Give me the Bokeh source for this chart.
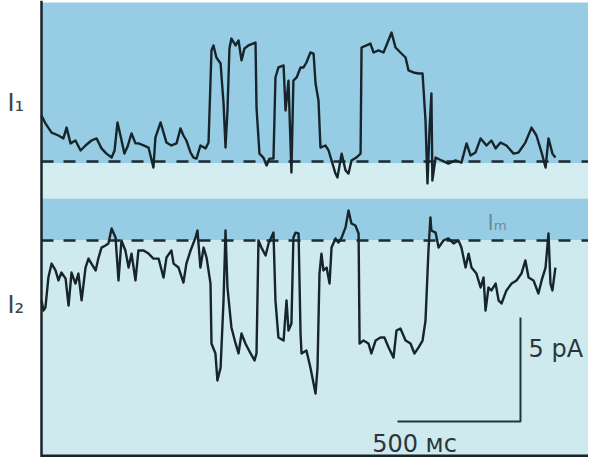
from bokeh.plotting import figure
from bokeh.models import BoxAnnotation, Label, Span, Range1d
from bokeh.embed import file_html
from bokeh.resources import INLINE

# ---------------- data ----------------
# Trace I1: time (ms) and current (pA) relative to its baseline
t1 = [0, 16, 41, 69, 89, 102, 118, 138, 159, 179, 203, 224, 244, 264, 285, 297, 309, 321, 337, 350,
      366, 382, 394, 415, 435, 455, 463, 484, 508, 528, 549, 565, 577, 589, 606, 618, 630, 646, 667, 679,
      691, 699, 711, 728, 740, 748, 756, 764, 772, 789, 801, 813, 825, 841, 870, 874, 886, 902, 915, 927,
      943, 951, 963, 984, 992, 1004, 1016, 1024, 1037, 1053, 1065, 1077, 1093, 1106, 1114, 1126, 1134,
      1154, 1167, 1179, 1195, 1203, 1220, 1236, 1248, 1260, 1280, 1297, 1301, 1321, 1337, 1350, 1370,
      1390, 1402, 1423, 1439, 1459, 1480, 1492, 1512, 1533, 1549, 1561, 1569, 1577, 1585, 1589, 1602,
      1626, 1654, 1683, 1707, 1728, 1744, 1764, 1785, 1809, 1829, 1846, 1866, 1890, 1919, 1939, 1967,
      1992, 2012, 2033, 2049, 2061, 2077, 2089]
i1 = [2.21, 1.83, 1.39, 1.25, 1.11, 1.63, 0.87, 1.01, 0.53, 0.77, 1.01, 1.11, 0.63, 0.38, 0.19, 0.53, 1.88, 1.25, 0.38, 0.72,
      1.35, 0.87, 0.87, 0.77, 0.67, -0.29, 1.15, 1.88, 0.91, 0.77, 0.87, 1.59, 1.25, 1.01, 0.43, 0.19, 0.14, 0.77, 0.63, 0.91,
      5.34, 5.58, 5.0, 4.71, 2.79, 0.67, 2.45, 5.43, 5.91, 5.58, 5.82, 4.86, 5.43, 5.58, 5.72, 2.6, 0.38, 0.19, -0.19, 0.14,
      0.14, 4.04, 4.52, 4.62, 2.45, 3.89, -0.53, 3.89, 4.04, 4.52, 4.52, 4.76, 5.24, 5.19, 3.75, 2.93, 0.67,
      0.77, 0.53, 0.05, -0.58, -0.77, 0.38, -0.43, -0.58, 0.05, 0.19, 0.38, 5.48, 5.58, 5.67, 5.24, 5.34,
      5.24, 5.58, 6.2, 5.48, 5.24, 5.0, 4.38, 4.28, 4.23, 4.23, 1.97, -1.06, 1.49, 3.27, -0.91, 0.19,
      0.05, -0.1, 0.05, -0.05, 0.87, 0.29, 0.43, 1.11, 0.77, 1.01, 0.63, 0.91, 0.77, 0.38, 0.43, 0.91,
      1.63, 1.25, 0.43, -0.29, 1.11, 0.38, 0.19]

# Trace I2: time (ms) and current (pA) relative to its baseline
t2 = [0, 8, 16, 28, 41, 57, 69, 81, 98, 110, 122, 138, 150, 163, 179, 191, 203, 220, 232, 244,
      260, 272, 285, 301, 313, 325, 341, 354, 366, 382, 394, 415, 435, 455, 476, 496, 508, 528,
      537, 557, 577, 589, 606, 626, 634, 646, 659, 671, 687, 691, 707, 715, 728, 740, 748, 756, 772,
      789, 801, 813, 829, 850, 866, 874, 882, 894, 911, 923, 943, 951, 963, 984, 996, 1004, 1016,
      1024, 1033, 1045, 1053, 1057, 1077, 1093, 1106, 1114, 1122, 1130, 1138, 1146, 1159, 1171, 1179,
      1195, 1207, 1220, 1236, 1248, 1260, 1276, 1289, 1293, 1309, 1329, 1341, 1358, 1378, 1394, 1411,
      1431, 1443, 1459, 1480, 1500, 1516, 1533, 1549, 1561, 1573, 1581, 1585, 1602, 1614, 1634, 1654,
      1675, 1695, 1707, 1724, 1736, 1748, 1768, 1785, 1797, 1805, 1817, 1829, 1846, 1858, 1870, 1890,
      1911, 1931, 1951, 1967, 1980, 2000, 2020, 2033, 2049, 2061, 2069, 2077, 2089]
i2 = [-2.88, -3.37, -3.22, -1.78, -1.11, -1.44, -1.92, -1.54, -1.83, -3.13, -1.54, -2.07, -1.59, -2.88, -1.3, -0.87, -1.11, -1.44, -0.82, -0.34,
      -0.24, -0.14, 0.58, 0.14, -1.92, 0.0, -0.48, -1.3, -0.63, -1.92, -0.48, -0.48, -0.63, -0.87, -0.87, -1.78, -0.82, -0.48,
      -1.11, -1.3, -2.02, -1.11, -0.48, 0.14, 0.48, -1.3, -0.34, -0.82, -2.07, -4.95, -5.43, -6.73, -6.11, -2.88, 0.48, -2.26, -4.18,
      -4.95, -5.43, -4.47, -4.95, -5.43, -5.77, -5.43, 0.0, -0.34, -0.72, -0.14, 0.38, -2.88, -4.66, -4.81, -2.88, -4.33, -3.99,
      0.14, 0.38, 0.34, -4.47, -5.43, -5.29, -6.11, -6.88, -7.36, -6.11, -1.59, -0.63, -1.44, -1.3, -2.07, -0.34,
      0.1, -0.1, 0.14, 0.63, 1.44, 0.82, 0.72, 0.34, -4.95, -4.81, -4.95, -5.43, -4.81, -4.66, -4.66, -5.14,
      -5.63, -4.33, -4.23, -4.81, -4.95, -5.43, -5.14, -4.81, -3.85, -0.48, 1.11, 0.48, 0.38, -0.34, 0.0, 0.1,
      -0.14, 0.0, -0.34, -1.3, -0.63, -1.3, -1.59, -2.26, -1.78, -3.37, -2.26, -2.4, -2.07, -2.88, -3.03, -2.4,
      -2.07, -1.92, -1.59, -0.96, -1.78, -1.92, -2.55, -1.92, -1.3, 0.34, -2.07, -2.4, -1.3]

scale_t = 500   # ms
scale_i = 5     # pA
trace_labels = ["I\u2081", "I\u2082", "I\u2098"]
scale_labels = ["5 pA", "500 \u043c\u0441"]

# ---------------- layout ----------------
W, H = 588, 457
PX_PER_MS = 0.246
PX_PER_PA = 20.8
ORIGIN_X = 41      # screen x of t = 0 (left axis)
ORIGIN_Y = 462     # screen y of current 0 reference
TXT_DY = 9         # text baseline correction (px)


def X(px):
    return (px - ORIGIN_X) / PX_PER_MS


def Y(py):
    return (ORIGIN_Y - py) / PX_PER_PA


def TY(py):
    return Y(py - TXT_DY)


x_start, x_end = X(0), X(W)
y_start, y_end = Y(H), Y(0)
B1 = Y(161)        # baseline of trace I1
B2 = Y(240)        # baseline of trace I2
DARK = "#97cce5"
LIGHT_BAND = "#d3edf1"
LIGHT = "#cfeaef"
INK = "#17252b"

p = figure(width=W, height=H, x_range=Range1d(x_start, x_end), y_range=Range1d(y_start, y_end),
           output_backend="svg", toolbar_location=None, min_border=0,
           x_axis_type=None, y_axis_type=None, outline_line_color=None,
           background_fill_color="white", border_fill_color="white")
p.grid.visible = False


def band(bottom=None, top=None, color=DARK):
    kw = dict(left=0, right=X(590), fill_color=color, fill_alpha=1, line_alpha=0, level="underlay")
    kw["bottom"] = bottom if bottom is not None else y_start
    kw["top"] = top if top is not None else Y(2)
    p.add_layout(BoxAnnotation(**kw))


band(bottom=Y(163), color=DARK)
band(bottom=Y(198), top=Y(163), color=LIGHT_BAND)
band(bottom=B2, top=Y(198), color=DARK)
band(top=B2, color=LIGHT)

# dashed baselines
for b in (B1, B2):
    p.line([0, X(590)], [b, b], line_color="#1e2b30", line_width=2.5, line_dash="12 10 12 11")

# traces
p.line(t1, [B1 + v for v in i1], line_color=INK, line_width=2.4, line_join="round")
p.line(t2, [B2 + v for v in i2], line_color=INK, line_width=2.4, line_join="round")

# axis lines
p.add_layout(Span(location=0, dimension="height", line_color="#1b2529", line_width=2.5))
yb = Y(H - 1.5)
p.line([0, X(590)], [yb, yb], line_color="#1b2529", line_width=3)

# scale bar
SB_X, SB_Y = X(520), Y(421)
p.line([SB_X - scale_t, SB_X, SB_X], [SB_Y, SB_Y, SB_Y + scale_i], line_color="#24343a", line_width=2)

# labels
lab = dict(text_font="DejaVu Sans", text_baseline="alphabetic")
p.add_layout(Label(x=X(7), y=TY(111), text=trace_labels[0], text_font_size="24px",
                   text_color="#3a4448", **lab))
p.add_layout(Label(x=X(7), y=TY(313), text=trace_labels[1], text_font_size="24px",
                   text_color="#3a4448", **lab))
p.add_layout(Label(x=X(487), y=TY(231), text=trace_labels[2], text_font_size="21px",
                   text_color="#6f8a94", **lab))
p.add_layout(Label(x=X(528), y=TY(357), text=scale_labels[0], text_font_size="24px",
                   text_color="#2a363b", **lab))
p.add_layout(Label(x=X(414), y=TY(452), text=scale_labels[1], text_font_size="24px",
                   text_color="#2a363b", text_align="center", **lab))

open("out.html", "w").write(file_html(p, INLINE))
